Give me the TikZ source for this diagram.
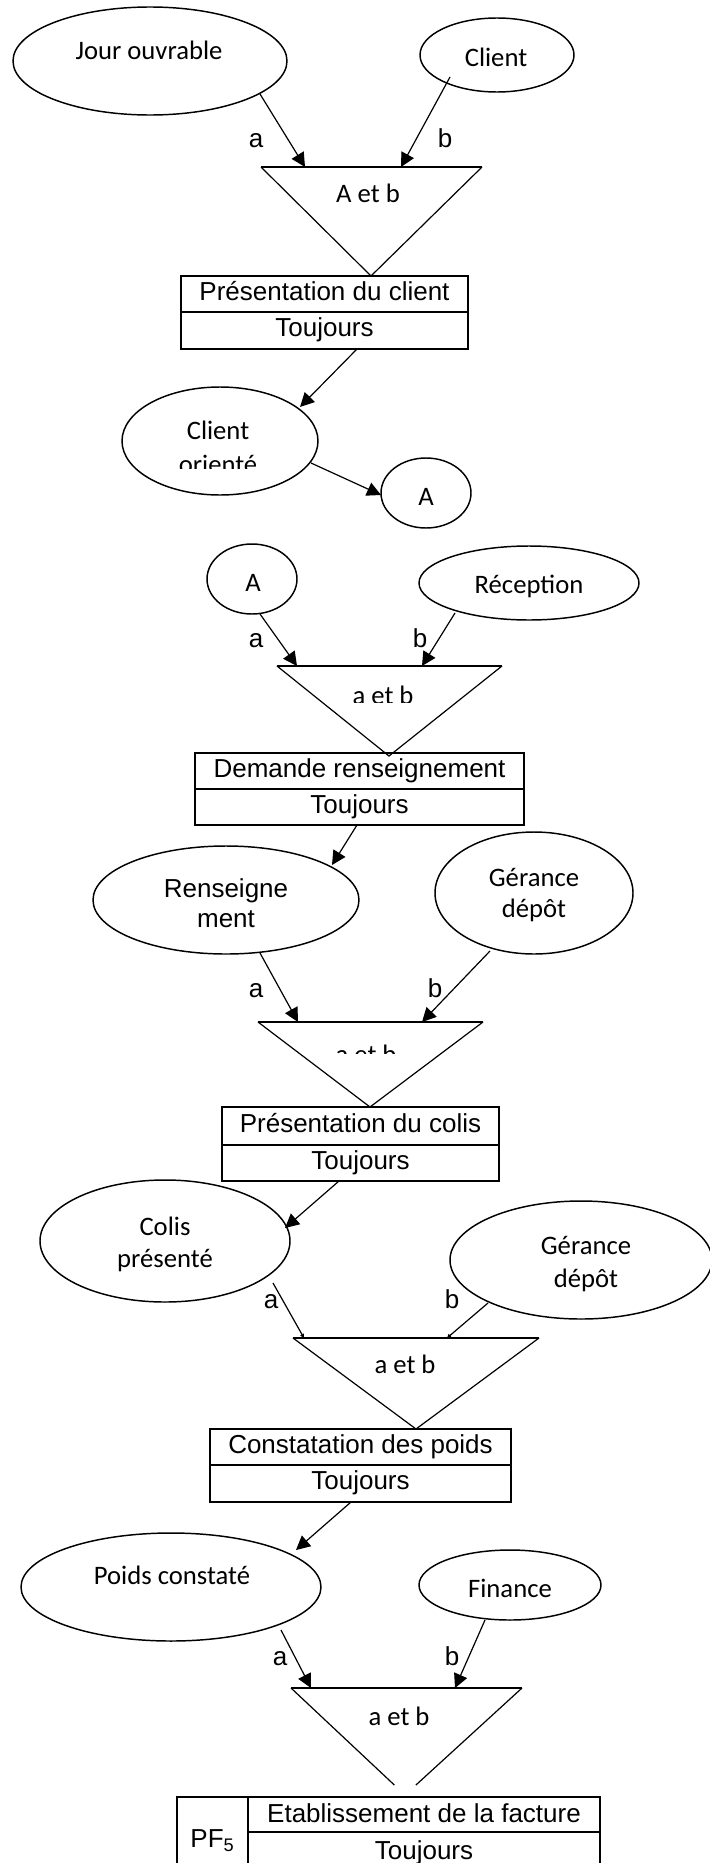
\documentclass[tikz,border=0pt]{standalone}
\usepackage{fontspec}
\setmainfont{Carlito}
\newfontfamily\arial{Liberation Sans}
\usetikzlibrary{shapes.geometric,arrows.meta,calc}
\begin{document}
\begin{tikzpicture}[
  x=0.75pt, y=-0.75pt,
  oval/.style 2 args={draw, ellipse, line width=1.1pt, inner sep=0pt,
    minimum width=#1*1.5pt, minimum height=#2*1.5pt},
  ctext/.style={anchor=base, inner sep=0pt, font=\fontsize{20}{24}\selectfont},
  atext/.style={anchor=base, inner sep=0pt, font=\arial\fontsize{19.5}{23}\selectfont},
  row/.style={draw, line width=1.4pt, inner sep=0pt, outer sep=0pt,
    font=\arial\fontsize{19.5}{23}\selectfont, text height=14pt, text depth=4.6pt},
  link/.style={line width=0.9pt, -{Triangle[length=10.5pt,width=10.5pt]}},
  faint/.style={line width=0.9pt, -{Triangle[length=3pt,width=3pt]}},
  triside/.style={line width=0.9pt},
  tritop/.style={line width=1.3pt},
]
\useasboundingbox (0,0) rectangle (710,1863);
\clip (0,0) rectangle (710,1863);

% ---------- Presentation du client ----------
\node[oval={137}{54}] (jour) at (150,61) {};
\node[ctext] (jourT) at (149,59) {Jour ouvrable};
\node[oval={77}{37}] (cli) at (497,55) {};
\node[ctext] (cliT) at (496,66) {Client};

\coordinate (t1l) at (261,167);
\coordinate (t1r) at (482,167);
\coordinate (t1b) at (371,276);
\draw[triside] (t1l) -- (t1b) -- (t1r);
\draw[tritop] (t1l) -- (t1r);
\node[ctext] (t1T) at (368,202) {A et b};

\draw[link] ($(jour)+(110,33)$) -- ($(t1l)+(44,0)$);
\draw[link] ($(cli)+(-47,22)$) -- ($(t1l)+(140,0)$);
\node[atext] (la1) at (256,147) {a};
\node[atext] (lb1) at (445,147) {b};

\node[row, minimum width=215.25pt, minimum height=27pt] (b1t) at (324.5,294) {Présentation du client};
\node[row, minimum width=215.25pt, minimum height=27.75pt, anchor=north] (b1b) at (b1t.south) {Toujours};

\node[oval={98}{54}] (cor) at (220,441) {};
\node[ctext] (corT1) at (218,439) {Client};
\begin{scope}
  \clip (120,440) rectangle (320,468);
  \node[ctext] (corT2) at (218,473) {orienté};
\end{scope}
\draw[link] ($(b1b.south)+(32.5,0)$) -- ($(cor)+(80,-34)$);

\node[oval={45}{35}] (ca) at (426,493) {};
\node[ctext] (caT) at (426,505) {A};
\draw[link] ($(cor)+(91,22)$) -- ($(ca)+(-45,2)$);

% ---------- Demande renseignement ----------
\node[oval={45}{35}] (cb) at (252,579) {};
\node[ctext] (cbT) at (253,591) {A};
\node[oval={110}{37}] (rec) at (529,583) {};
\node[ctext] (recT) at (529,593) {Réception};

\coordinate (t2l) at (277,666);
\coordinate (t2r) at (502,666);
\coordinate (t2b) at (389,756);
\draw[triside] (t2l) -- (t2b) -- (t2r);
\draw[tritop] (t2l) -- (t2r);
\begin{scope}
  \clip (270,672) rectangle (510,702);
  \node[ctext] (t2T) at (383,704) {a et b};
\end{scope}

\draw[link] ($(cb)+(8,35)$) -- ($(t2l)+(20,0)$);
\draw[link] ($(rec)+(-74,30)$) -- ($(t2l)+(145,0)$);
\node[atext] (la2) at (256,647) {a};
\node[atext] (lb2) at (420,647) {b};

\node[row, minimum width=246.75pt, minimum height=27pt] (b2t) at (359.5,771) {Demande renseignement};
\node[row, minimum width=246.75pt, minimum height=27pt, anchor=north] (b2b) at (b2t.south) {Toujours};

\node[oval={133}{54}] (ren) at (226,900) {};
\node[atext] (renT1) at (226,897) {Renseigne};
\node[atext] (renT2) at (226,927) {ment};
\node[oval={99}{61}] (ger) at (534,893) {};
\node[ctext] (gerT1) at (534,886) {Gérance};
\node[ctext] (gerT2) at (534,917) {dépôt};
\draw[link] ($(b2b.south)+(-2.5,0)$) -- ($(ren)+(106,-35)$);

% ---------- Presentation du colis ----------
\coordinate (t3l) at (258,1022);
\coordinate (t3r) at (483,1022);
\coordinate (t3b) at (370,1107);
\draw[triside] (t3l) -- (t3b) -- (t3r);
\draw[tritop] (t3l) -- (t3r);
\begin{scope}
  \clip (250,1030) rectangle (490,1053);
  \node[ctext] (t3T) at (366,1063) {a et b};
\end{scope}

\draw[link] ($(ren)+(34,53)$) -- ($(t3l)+(40,0)$);
\draw[link] ($(ger)+(-44,58)$) -- ($(t3l)+(164,0)$);
\node[atext] (la3) at (256,997) {a};
\node[atext] (lb3) at (435,997) {b};

\node[row, minimum width=207.75pt, minimum height=28.5pt] (b3t) at (360.5,1126) {Présentation du colis};
\node[row, minimum width=207.75pt, minimum height=27pt, anchor=north] (b3b) at (b3t.south) {Toujours};

\node[oval={125}{61}] (col) at (165,1241) {};
\node[ctext] (colT1) at (165,1235) {Colis};
\node[ctext] (colT2) at (165,1267) {présenté};
\node[oval={131}{59}] (ger2) at (581,1260) {};
\node[ctext] (ger2T1) at (586,1254) {Gérance};
\node[ctext] (ger2T2) at (586,1287) {dépôt};
\draw[link] ($(b3b.south)+(-21.5,0)$) -- ($(col)+(120,-13)$);

% ---------- Constatation des poids ----------
\coordinate (t4l) at (293,1338);
\coordinate (t4r) at (539,1338);
\coordinate (t4b) at (416,1429);
\draw[triside] (t4l) -- (t4b) -- (t4r);
\draw[tritop] (t4l) -- (t4r);
\node[ctext] (t4T) at (405,1373) {a et b};

\draw[faint] ($(col)+(108,42)$) -- ($(t4l)+(11,0)$);
\draw[faint] ($(ger2)+(-93,43)$) -- ($(t4l)+(154,0)$);
\node[atext] (la4) at (271,1308) {a};
\node[atext] (lb4) at (452,1308) {b};

\node[row, minimum width=225.75pt, minimum height=27pt] (b4t) at (360.5,1447) {Constatation des poids};
\node[row, minimum width=225.75pt, minimum height=27.75pt, anchor=north] (b4b) at (b4t.south) {Toujours};

\node[oval={150}{54}] (poi) at (171,1587) {};
\node[ctext] (poiT) at (172,1584) {Poids constaté};
\node[oval={91}{35}] (fin) at (510,1585) {};
\node[ctext] (finT) at (510,1597) {Finance};
\draw[link] ($(b4b.south)+(-9.5,0)$) -- ($(poi)+(125,-37)$);

% ---------- Etablissement de la facture ----------
\coordinate (t5l) at (291,1688);
\coordinate (t5r) at (522,1688);
\coordinate (t5b) at (405,1795);
\draw[triside] (t5l) -- ($(t5l)!0.907!(t5b)$);
\draw[triside] (t5r) -- ($(t5r)!0.907!(t5b)$);
\draw[tritop] (t5l) -- (t5r);
\node[ctext] (t5T) at (399,1725) {a et b};

\draw[link] ($(poi)+(110,43)$) -- ($(t5l)+(20,0)$);
\draw[link] ($(fin)+(-25,35)$) -- ($(t5l)+(164,0)$);
\node[atext] (la5) at (280,1665) {a};
\node[atext] (lb5) at (452,1665) {b};

\node[row, minimum width=53.25pt, minimum height=53.25pt, text height=22pt, text depth=0pt] (pf) at (212.5,1832.5) {PF\textsubscript{5}};
\node[row, minimum width=264pt, minimum height=26.25pt, text depth=2.75pt] (b5t) at (424,1814.5) {Etablissement de la facture};
\node[row, minimum width=264pt, minimum height=27pt, text depth=0.5pt] (b5b) at (424,1850) {Toujours};
\end{tikzpicture}
\end{document}
